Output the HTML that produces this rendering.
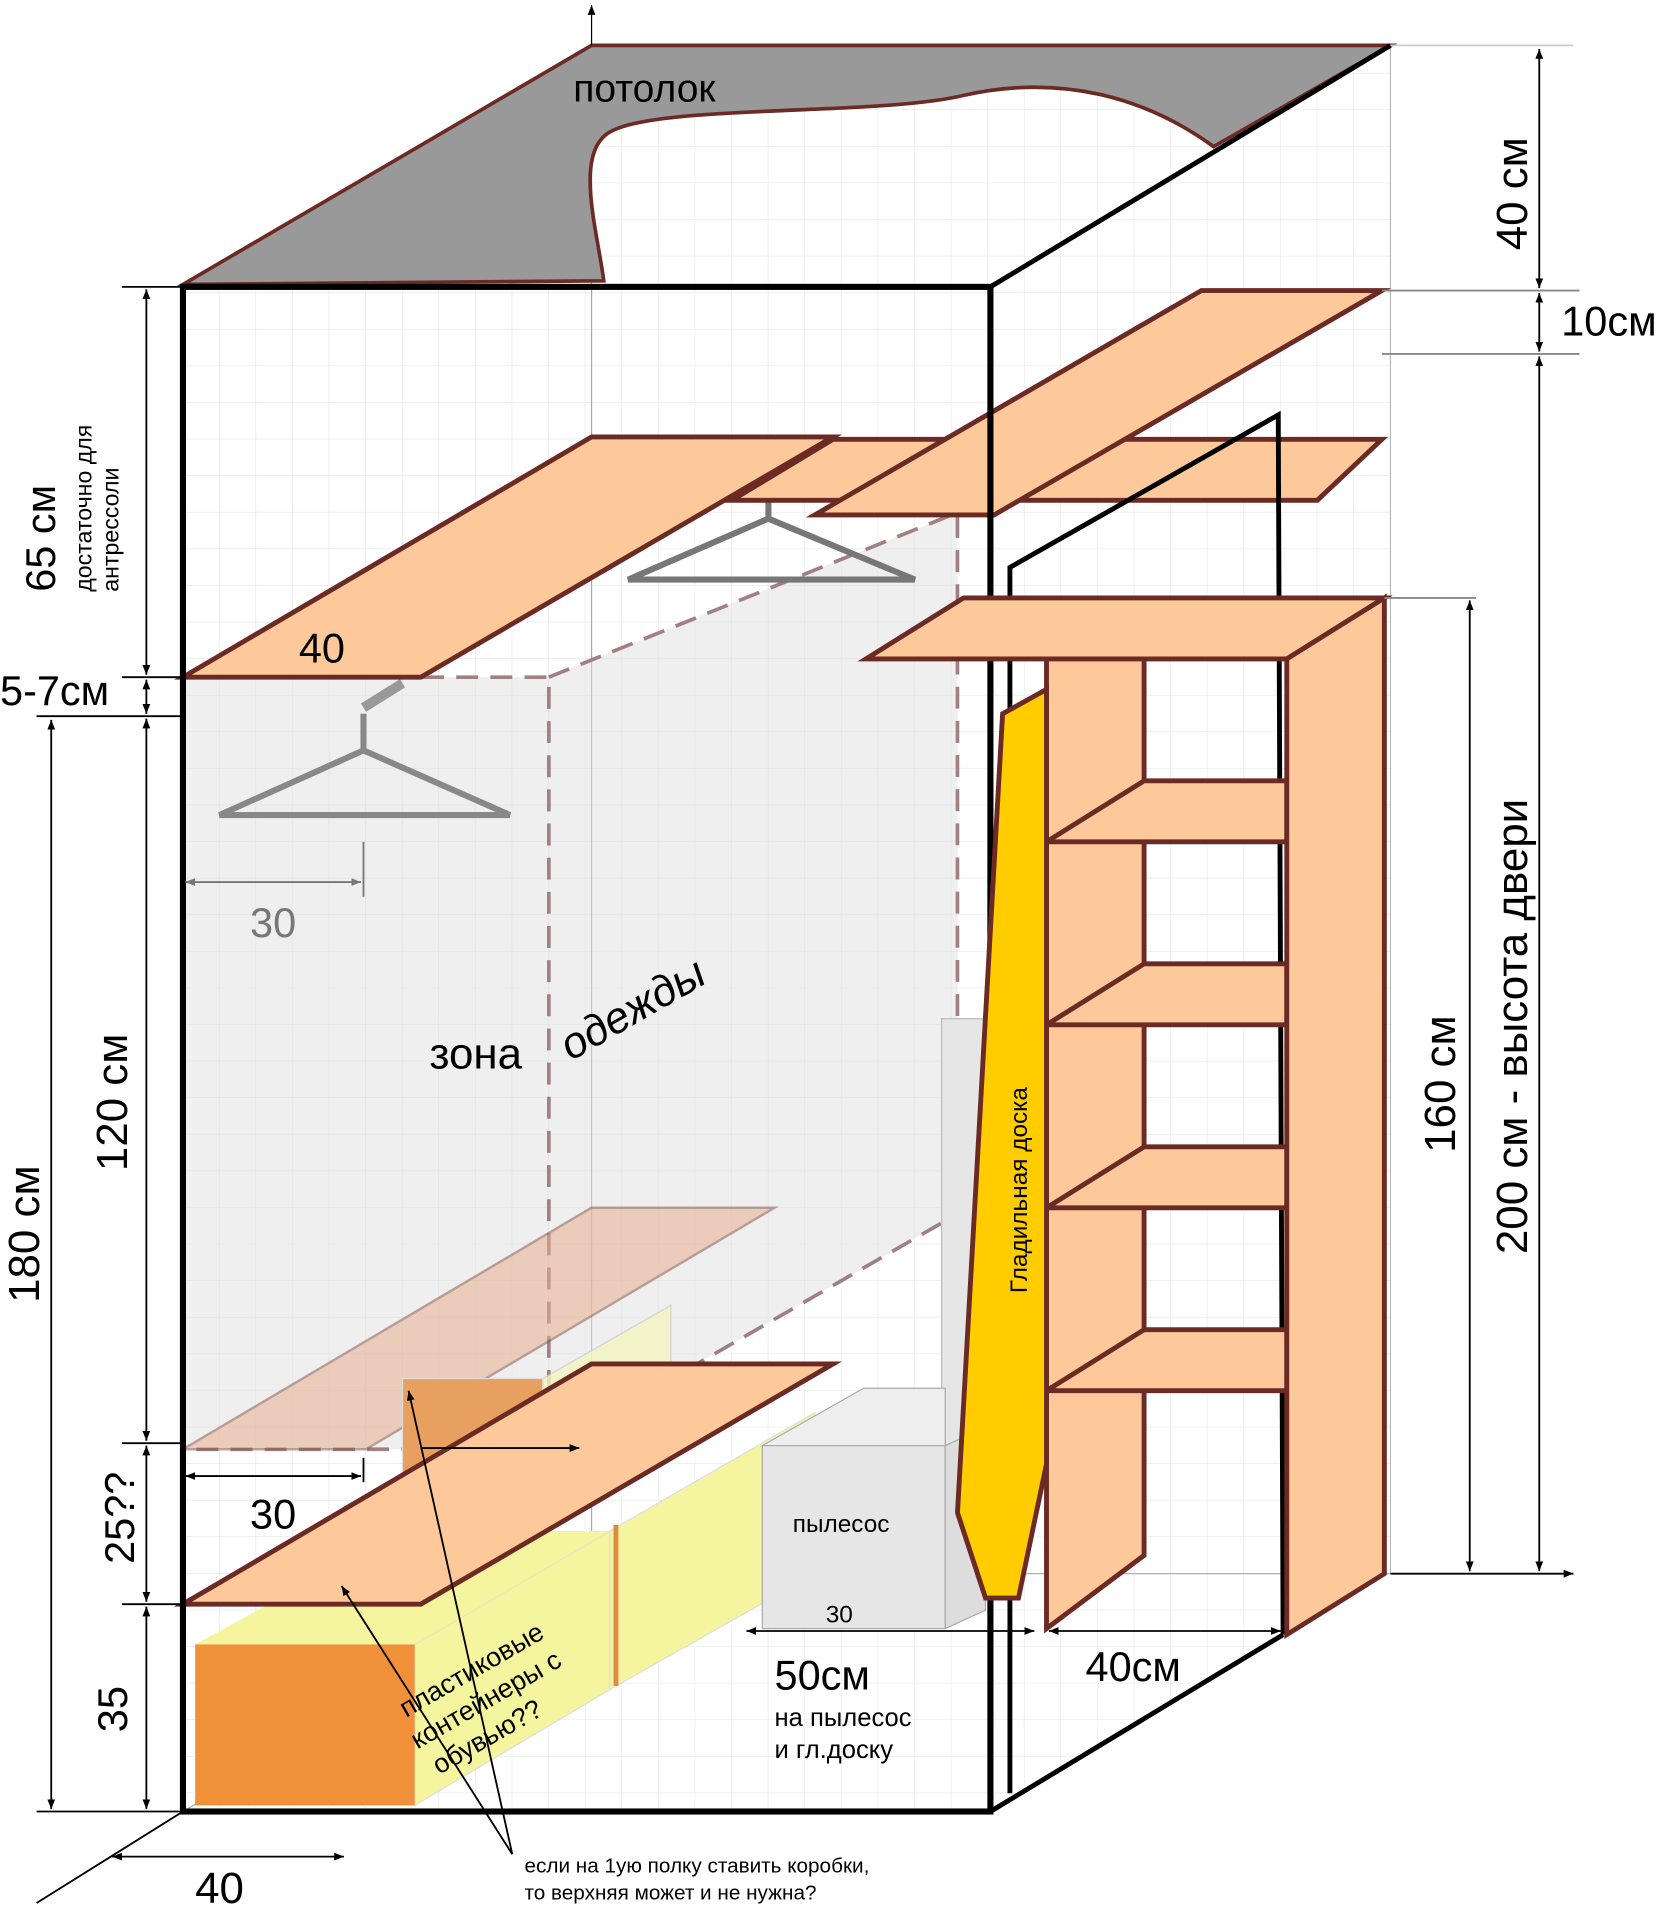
<!DOCTYPE html>
<html><head><meta charset="utf-8"><style>
html,body{margin:0;padding:0;background:#fff}
svg{display:block}
text{font-family:"Liberation Sans",sans-serif}
</style></head><body>
<svg width="1671" height="1913" viewBox="0 0 1370 1568" xmlns="http://www.w3.org/2000/svg">
<defs>
<pattern id="g" width="30" height="30" patternUnits="userSpaceOnUse"><path d="M30 0V30H0" fill="none" stroke="#ddd" stroke-width="1"/></pattern>
<marker id="a" viewBox="0 0 10 10" refX="10" refY="5" markerWidth="8" markerHeight="8" orient="auto-start-reverse" markerUnits="userSpaceOnUse"><path d="M0,1 L10,5 L0,9Z" fill="#000"/></marker>
<marker id="ag" viewBox="0 0 10 10" refX="10" refY="5" markerWidth="8" markerHeight="8" orient="auto-start-reverse" markerUnits="userSpaceOnUse"><path d="M0,1 L10,5 L0,9Z" fill="#777"/></marker>
</defs>
<rect width="1370" height="1568" fill="#fff"/>
<polygon points="150,235 485,37 485,1290 150,1485" fill="url(#g)" opacity="0.8"/>
<rect x="485" y="37" width="655" height="1253" fill="url(#g)" opacity="0.7"/>
<polygon points="150,1485 485,1290 1140,1290 812,1485" fill="url(#g)" opacity="0.7"/>
<line x1="485" y1="37" x2="485" y2="1290" stroke="#aaa"/>
<line x1="485" y1="1290" x2="1140" y2="1290" stroke="#aaa"/>
<line x1="1140" y1="37" x2="1140" y2="1290" stroke="#bbb"/>
<line x1="485" y1="1290" x2="150" y2="1485" stroke="#aaa"/>
<path d="M150,233 L485,37 L1140,37 L995,120 C940,80 870,60 790,78 C720,95 540,85 500,108 C470,125 490,190 495,230 Z" fill="#999" stroke="#6b2a24" stroke-width="3"/>
<text x="470" y="83" font-size="32">потолок</text>
<line x1="485" y1="37" x2="485" y2="4" stroke="#000" marker-end="url(#a)"/>
<polygon points="150,555 450,555 785,420 785,995 450,1188 150,1188" fill="#e0e0e0" opacity="0.5"/>
<polyline points="150,555 450,555 450,1188 150,1188" fill="none" stroke="#a08080" stroke-width="3" stroke-dasharray="18,10"/>
<polyline points="450,555 785,420 785,995 450,1188" fill="none" stroke="#a08080" stroke-width="3" stroke-dasharray="18,10"/>
<polygon points="150,1188 485,990 635,990 300,1188" fill="#e8b090" opacity="0.55" stroke="#8a5a50" stroke-width="2"/>
<polygon points="445,1130 550,1070 550,1160 445,1215" fill="#f5f5c0" opacity="0.8" stroke="#ccc"/>
<rect x="330" y="1130" width="115" height="85" fill="#e8a060" stroke="#ddd"/>
<g fill="none" stroke="#888" stroke-width="5"><path d="M180,668 L298,615 L418,668 Z"/><path d="M298,615 V585"/></g>
<path d="M298,580 L330,560" stroke="#999" stroke-width="8"/>
<g fill="none" stroke="#777" stroke-width="5"><path d="M515,475 L630,425 L750,475 Z"/><path d="M630,425 V410"/></g>
<polygon points="150,555 485,358 683,358 345,555" fill="#fdc89a" stroke="#6b2a24" stroke-width="4"/>
<polygon points="600,410 683,360 1133,360 1080,410" fill="#fdc89a" stroke="#6b2a24" stroke-width="4"/>
<polygon points="668,422 985,238 1133,238 815,422" fill="#fdc89a" stroke="#6b2a24" stroke-width="4"/>
<text x="245" y="543" font-size="34">40</text>
<rect x="772" y="835" width="35" height="480" fill="#e6e6e6" stroke="#bbb"/>
<polygon points="340,1348 500,1255 500,1385 340,1480" fill="#f5f5a0" stroke="#ddd"/>
<polygon points="500,1255 668,1158 668,1290 500,1385" fill="#f5f5a0" stroke="#ddd"/>
<line x1="505" y1="1250" x2="505" y2="1382" stroke="#e08a40" stroke-width="4"/>
<polygon points="160,1348 340,1348 500,1255 330,1255" fill="#f5f5a0"/>
<rect x="160" y="1348" width="180" height="132" fill="#f0913a"/>
<polygon points="625,1185 708,1138 775,1138 775,1185" fill="#eee" stroke="#aaa"/>
<rect x="625" y="1185" width="150" height="150" fill="#e6e6e6" stroke="#aaa"/>
<polygon points="775,1185 808,1170 808,1320 775,1335" fill="#ddd" stroke="#aaa"/>
<text x="650" y="1256" font-size="20">пылесос</text>
<text x="677" y="1330" font-size="20">30</text>
<polygon points="150,1315 485,1118 683,1118 345,1315" fill="#fdc89a" stroke="#6b2a24" stroke-width="4"/>
<text transform="translate(360,1455) rotate(-30)" font-size="22"><tspan x="0" y="0">обувью??</tspan><tspan x="-5" y="-27">контейнеры с</tspan><tspan x="0" y="-54">пластиковые</tspan></text>
<rect x="150" y="235" width="662" height="1250" fill="none" stroke="#000" stroke-width="5"/>
<line x1="812" y1="235" x2="1140" y2="37" stroke="#000" stroke-width="4"/>
<line x1="812" y1="1485" x2="1052" y2="1340" stroke="#000" stroke-width="4"/>
<polyline points="828,1470 828,465 1048,340 1052,1340" fill="none" stroke="#000" stroke-width="4"/>
<polygon points="710,540 790,490 1135,490 1055,540" fill="#fdc89a" stroke="#6b2a24" stroke-width="4"/>
<polygon points="858,540 938,540 938,1275 858,1335" fill="#fdc89a" stroke="#6b2a24" stroke-width="4"/>
<g fill="#fdc89a" stroke="#6b2a24" stroke-width="4">
<polygon points="858,690 938,640 1055,640 1055,690"/>
<polygon points="858,840 938,790 1055,790 1055,840"/>
<polygon points="858,990 938,940 1055,940 1055,990"/>
<polygon points="858,1140 938,1090 1055,1090 1055,1140"/>
<polygon points="1055,540 1135,490 1135,1290 1055,1340"/>
</g>
<polygon points="822,585 858,565 858,1200 835,1310 808,1310 785,1240" fill="#ffcc00" stroke="#6b2a24" stroke-width="4"/>
<text transform="translate(842,1060) rotate(-90)" font-size="20">Гладильная доска</text>
<g stroke="#000" stroke-width="1.5">
<line x1="1140" y1="37" x2="1290" y2="37" stroke="#ccc"/>
<line x1="1133" y1="238" x2="1295" y2="238" stroke="#888"/>
<line x1="1133" y1="290" x2="1295" y2="290" stroke="#888"/>
<line x1="1262" y1="40" x2="1262" y2="236" marker-start="url(#a)" marker-end="url(#a)"/>
<line x1="1262" y1="240" x2="1262" y2="288" marker-start="url(#a)" marker-end="url(#a)"/>
<line x1="1262" y1="292" x2="1262" y2="1288" marker-start="url(#a)" marker-end="url(#a)"/>
<line x1="1135" y1="490" x2="1210" y2="490" stroke="#888"/>
<line x1="1205" y1="492" x2="1205" y2="1288" marker-start="url(#a)" marker-end="url(#a)"/>
<line x1="1140" y1="1290" x2="1290" y2="1290" marker-end="url(#a)"/>
</g>
<text transform="translate(1252,205) rotate(-90)" font-size="36">40 см</text>
<text x="1280" y="275" font-size="34">10см</text>
<text transform="translate(1193,945) rotate(-90)" font-size="36">160 см</text>
<text transform="translate(1252,1028) rotate(-90)" font-size="36">200 см - высота двери</text>
<g stroke="#000" stroke-width="1.5">
<line x1="120" y1="237" x2="120" y2="553" marker-start="url(#a)" marker-end="url(#a)"/>
<line x1="120" y1="557" x2="120" y2="585" marker-start="url(#a)" marker-end="url(#a)"/>
<line x1="120" y1="589" x2="120" y2="1181" marker-start="url(#a)" marker-end="url(#a)"/>
<line x1="120" y1="1185" x2="120" y2="1313" marker-start="url(#a)" marker-end="url(#a)"/>
<line x1="120" y1="1317" x2="120" y2="1483" marker-start="url(#a)" marker-end="url(#a)"/>
<line x1="42" y1="590" x2="42" y2="1483" marker-start="url(#a)" marker-end="url(#a)"/>
<line x1="100" y1="235" x2="150" y2="235"/>
<line x1="100" y1="555" x2="150" y2="555"/>
<line x1="30" y1="587" x2="150" y2="587"/>
<line x1="100" y1="1183" x2="150" y2="1183"/>
<line x1="100" y1="1315" x2="150" y2="1315"/>
<line x1="30" y1="1485" x2="150" y2="1485"/>
<line x1="92" y1="1522" x2="282" y2="1522" marker-start="url(#a)" marker-end="url(#a)"/>
<line x1="150" y1="1485" x2="30" y2="1560"/>
<line x1="152" y1="723" x2="296" y2="723" stroke="#777" marker-start="url(#ag)" marker-end="url(#ag)"/>
<line x1="298" y1="690" x2="298" y2="735" stroke="#777"/>
<line x1="152" y1="1210" x2="296" y2="1210" marker-start="url(#a)" marker-end="url(#a)"/>
<line x1="298" y1="1195" x2="298" y2="1215"/>
<line x1="612" y1="1337" x2="848" y2="1337" marker-start="url(#a)" marker-end="url(#a)"/>
<line x1="860" y1="1337" x2="1050" y2="1337" marker-start="url(#a)" marker-end="url(#a)"/>
<line x1="345" y1="1187" x2="475" y2="1187" marker-end="url(#a)"/>
<line x1="420" y1="1520" x2="335" y2="1140" marker-end="url(#a)"/>
<line x1="420" y1="1520" x2="280" y2="1300" marker-end="url(#a)"/>
</g>
<text transform="translate(45,485) rotate(-90)" font-size="34">65 см</text>
<text transform="translate(75,485) rotate(-90)" font-size="19"><tspan x="0" y="0">достаточно для</tspan><tspan x="0" y="22">антрессоли</tspan></text>
<text x="0" y="578" font-size="34">5-7см</text>
<text transform="translate(104,960) rotate(-90)" font-size="36">120 см</text>
<text transform="translate(32,1068) rotate(-90)" font-size="36">180 см</text>
<text transform="translate(110,1282) rotate(-90)" font-size="34">25??</text>
<text transform="translate(104,1420) rotate(-90)" font-size="34">35</text>
<text x="160" y="1560" font-size="36">40</text>
<text x="205" y="768" font-size="34" fill="#777">30</text>
<text x="205" y="1253" font-size="34">30</text>
<text x="352" y="876" font-size="36">зона</text>
<text transform="translate(468,870) rotate(-30)" font-size="36" font-style="italic">одежды</text>
<text x="635" y="1385" font-size="34">50см</text>
<text x="635" y="1415" font-size="21">на пылесос</text>
<text x="635" y="1441" font-size="21">и гл.доску</text>
<text x="890" y="1378" font-size="34">40см</text>
<text x="430" y="1535" font-size="17">если на 1ую полку ставить коробки,</text>
<text x="430" y="1557" font-size="17">то верхняя может и не нужна?</text>
</svg>
</body></html>
